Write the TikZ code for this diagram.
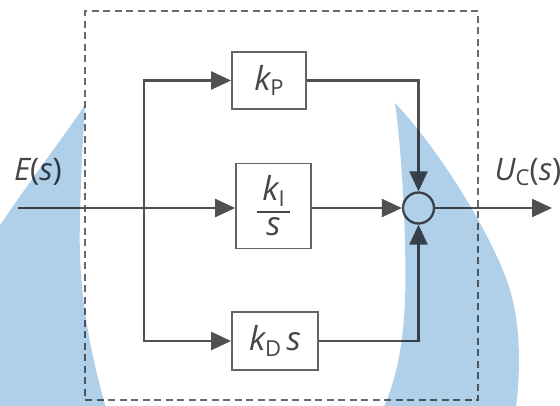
\documentclass[tikz,border=0pt]{standalone}
\usepackage{amsmath}
\usepackage{fontspec}
\setmainfont{Open Sans}
\usetikzlibrary{arrows.meta}
\definecolor{wmblue}{RGB}{176,207,232}
\definecolor{linec}{RGB}{80,80,80}
\definecolor{boxc}{RGB}{100,100,100}
\definecolor{txtc}{RGB}{70,70,70}
\definecolor{dashc}{RGB}{105,105,105}
\newcommand{\lsub}[1]{\raisebox{-0.3ex}{\fontsize{22}{24}\selectfont #1}}
\begin{document}
\begin{tikzpicture}[x=1pt,y=-1pt,
  wm/.style={fill=wmblue,blend mode=multiply},
  wire/.style={draw=linec,line width=2.3pt},
  arr/.style={-{Triangle[length=20pt,width=18pt]}},
  blk/.style={draw=boxc,line width=1.8pt,rectangle,inner sep=0pt,text=txtc,
    font=\fontsize{33}{38}\selectfont},
  sumc/.style={draw=linec,line width=2.3pt,circle,inner sep=0pt,minimum size=31pt},
  lbl/.style={text=txtc,inner sep=0pt,font=\fontsize{31}{36}\selectfont},
  frame/.style={draw=dashc,line width=1.7pt,dash pattern=on 7pt off 4.5pt,
    rectangle,inner sep=0pt}]
\useasboundingbox (0,0) rectangle (560,405);
% controller frame
\node[frame,minimum width=393pt,minimum height=389pt] (ctrl) at (281.5,205.5) {};
% blocks
\node[blk,minimum width=74pt,minimum height=57pt] (kp) at (269,80.5)
  {\itshape k\upshape\lsub{P}};
\node[blk,minimum width=75pt,minimum height=85pt] (ki) at (273.5,206)
  {$\genfrac{}{}{1.7pt}{0}{\mbox{\hspace{5pt}\itshape k\upshape\lsub{I}\hspace{5pt}}}{\mbox{\itshape s}}$};
\node[blk,minimum width=86pt,minimum height=58pt] (kd) at (275,341)
  {{\itshape k}\lsub{D}\,{\itshape s}};
\node[sumc] (sum) at (418.5,208) {};
% coordinates
\coordinate (in) at (18,208);
\coordinate (br) at (144,208);
\coordinate (out) at (552,208);
% labels
\node[lbl] (elbl) at (38,172) {{\itshape E}({\itshape s})};
\node[lbl] (ulbl) at (528,172) {{\itshape U}\lsub{C}({\itshape s})};
% connectors
\draw[wire] (in) -- (br);
\draw[wire,arr] (br) -- (br -| ki.west);
\draw[wire,arr] (br) |- (kp.west);
\draw[wire,arr] (br) |- (kd.west);
\draw[wire,arr] (sum.west -| ki.east) -- (sum.west);
\draw[wire,arr] (kp.east) -| (sum.north);
\draw[wire,arr] (kd.east) -| (sum.south);
\draw[wire,arr] (sum.east) -- (out);
% watermark shapes (multiplied over the drawing)
\begin{scope}
\clip (0,0) rectangle (560,405);
\fill[wm] (85,105) .. controls (65,135) and (30,180) .. (-10,240)
  -- (-10,415) -- (108,415)
  .. controls (86,340) and (78,280) .. (80,220)
  .. controls (81,160) and (84,125) .. cycle;
\fill[wm] (395,103) .. controls (402,150) and (407,250) .. (405,300)
  .. controls (403,350) and (395,385) .. (380,415)
  -- (515,415)
  .. controls (520,380) and (522,330) .. (510,290)
  .. controls (495,240) and (440,150) .. cycle;
\end{scope}
\end{tikzpicture}
\end{document}
